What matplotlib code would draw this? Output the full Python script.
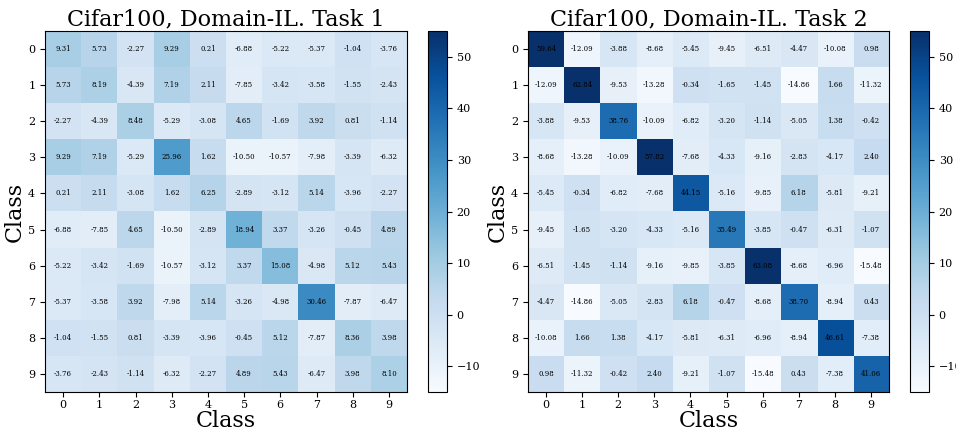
import numpy as np
import matplotlib
matplotlib.use("Agg")
import matplotlib.pyplot as plt

plt.rcParams['font.family'] = ['DejaVu Serif']

classes = [str(i) for i in range(10)]

task1 = [
    [9.31, 5.73, -2.27, 9.29, 0.21, -6.88, -5.22, -5.37, -1.04, -3.76],
    [5.73, 8.19, -4.39, 7.19, 2.11, -7.85, -3.42, -3.58, -1.55, -2.43],
    [-2.27, -4.39, 8.48, -5.29, -3.08, 4.65, -1.69, 3.92, 0.81, -1.14],
    [9.29, 7.19, -5.29, 25.96, 1.62, -10.50, -10.57, -7.98, -3.39, -6.32],
    [0.21, 2.11, -3.08, 1.62, 6.25, -2.89, -3.12, 5.14, -3.96, -2.27],
    [-6.88, -7.85, 4.65, -10.50, -2.89, 18.94, 3.37, -3.26, -0.45, 4.89],
    [-5.22, -3.42, -1.69, -10.57, -3.12, 3.37, 15.08, -4.98, 5.12, 5.43],
    [-5.37, -3.58, 3.92, -7.98, 5.14, -3.26, -4.98, 30.46, -7.87, -6.47],
    [-1.04, -1.55, 0.81, -3.39, -3.96, -0.45, 5.12, -7.87, 8.36, 3.98],
    [-3.76, -2.43, -1.14, -6.32, -2.27, 4.89, 5.43, -6.47, 3.98, 8.10],
]

task2 = [
    [59.64, -12.09, -3.88, -8.68, -5.45, -9.45, -6.51, -4.47, -10.08, 0.98],
    [-12.09, 62.84, -9.53, -13.28, -0.34, -1.65, -1.45, -14.86, 1.66, -11.32],
    [-3.88, -9.53, 38.76, -10.09, -6.82, -3.20, -1.14, -5.05, 1.38, -0.42],
    [-8.68, -13.28, -10.09, 57.82, -7.68, -4.33, -9.16, -2.83, -4.17, 2.40],
    [-5.45, -0.34, -6.82, -7.68, 44.15, -5.16, -9.85, 6.18, -5.81, -9.21],
    [-9.45, -1.65, -3.20, -4.33, -5.16, 35.49, -3.85, -0.47, -6.31, -1.07],
    [-6.51, -1.45, -1.14, -9.16, -9.85, -3.85, 63.08, -8.68, -6.96, -15.48],
    [-4.47, -14.86, -5.05, -2.83, 6.18, -0.47, -8.68, 38.70, -8.94, 0.43],
    [-10.08, 1.66, 1.38, -4.17, -5.81, -6.31, -6.96, -8.94, 46.61, -7.38],
    [0.98, -11.32, -0.42, 2.40, -9.21, -1.07, -15.48, 0.43, -7.38, 41.06],
]

titles = ["Cifar100, Domain-IL. Task 1", "Cifar100, Domain-IL. Task 2"]
vmin, vmax = -15.0, 55.0

fig = plt.figure(figsize=(9.56, 4.3), dpi=100)
W, H = 956, 430
axes_px = [(45, 31, 362, 361), (528, 31, 361, 361)]
cbar_px = [(428, 31, 19, 361), (910, 31, 19, 361)]

for k, (data, title) in enumerate(zip([task1, task2], titles)):
    x, y, w, h = axes_px[k]
    ax = fig.add_axes([x / W, 1 - (y + h) / H, w / W, h / H])
    arr = np.array(data)
    im = ax.imshow(arr, cmap='Blues', vmin=vmin, vmax=vmax, aspect='auto')
    for i in range(arr.shape[0]):
        for j in range(arr.shape[1]):
            ax.text(j, i, f"{arr[i, j]:.2f}", ha='center', va='center',
                    fontsize=5, color='black')
    ax.set_xticks(range(len(classes)))
    ax.set_yticks(range(len(classes)))
    ax.set_xticklabels(classes, fontsize=8)
    ax.set_yticklabels(classes, fontsize=8)
    ax.tick_params(axis='x', pad=2)
    ax.set_xlabel("Class", fontsize=16, labelpad=0)
    ax.set_ylabel("Class", fontsize=16, labelpad=2)
    ax.set_title(title, fontsize=16, pad=4)
    cx, cy, cw, ch = cbar_px[k]
    cax = fig.add_axes([cx / W, 1 - (cy + ch) / H, cw / W, ch / H])
    cb = fig.colorbar(im, cax=cax)
    cb.set_ticks([-10, 0, 10, 20, 30, 40, 50])
    cb.ax.tick_params(labelsize=8)

fig.savefig("out.png", dpi=100)
